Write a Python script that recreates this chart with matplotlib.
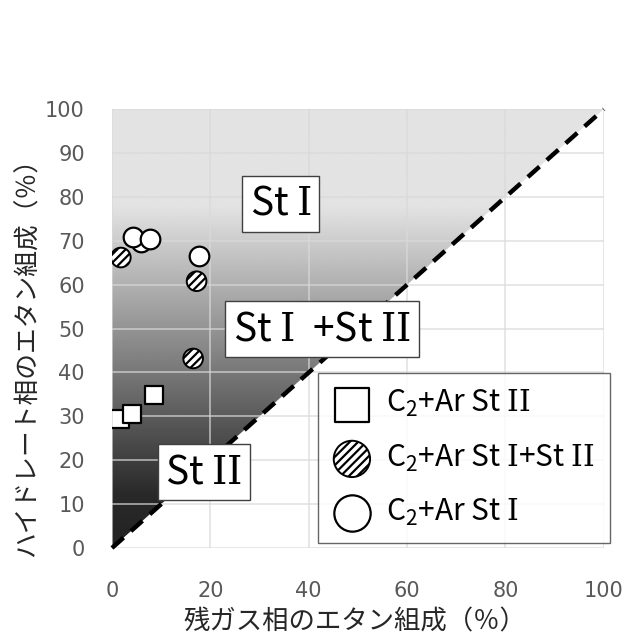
import numpy as np
import matplotlib
matplotlib.use("Agg")
import matplotlib.pyplot as plt
from matplotlib.patches import Polygon

plt.rcParams['font.family'] = ['Noto Sans CJK JP', 'DejaVu Sans']
plt.rcParams['mathtext.fontset'] = 'custom'
plt.rcParams['mathtext.rm'] = 'DejaVu Serif'
plt.rcParams['hatch.linewidth'] = 1.6

# Ethane composition: residual gas phase (x) vs hydrate phase (y), %
st2_x = [1.6, 4.1, 8.5]
st2_y = [29.5, 30.5, 34.8]
mix_x = [1.8, 16.5, 17.2]
mix_y = [66.2, 43.2, 60.8]
st1_x = [6.0, 4.2, 7.7, 17.7]
st1_y = [69.8, 70.8, 70.4, 66.6]

ONE = r'$\mathrm{I}$'
TWO = r'$\mathrm{II}$'
SUB2 = r'$_\mathregular{2}$'
labels = [f'C{SUB2}+Ar St {TWO}', f'C{SUB2}+Ar St {ONE}+St {TWO}', f'C{SUB2}+Ar St {ONE}']
region_labels = [f'St {ONE}', f'St {ONE}  +St {TWO}', f'St {TWO}']
region_pos = [(34.3, 78.4), (42.7, 49.9), (18.7, 17.3)]

xticks = [0, 20, 40, 60, 80, 100]
yticks = list(range(0, 101, 10))

fig = plt.figure(figsize=(6.38, 6.35), dpi=100)
ax = fig.add_axes([0.1755, 0.137, 0.771, 0.691])
ax.set_xlim(0, 100)
ax.set_ylim(0, 100)

# Shaded region above the 1:1 line, dark at the bottom and light at the top
yy = np.linspace(0, 100, 400)
shade = np.interp(yy, [0, 12, 78, 100], [0.14, 0.16, 0.89, 0.89])
img = np.repeat(shade[:, None], 2, axis=1)
im = ax.imshow(img, extent=[0, 100, 0, 100], origin='lower', cmap='gray',
               vmin=0, vmax=1, aspect='auto', zorder=0, interpolation='bilinear')
tri = Polygon([[0, 0], [0, 100], [100, 100]], closed=True, transform=ax.transData,
              facecolor='none', edgecolor='none')
ax.add_patch(tri)
im.set_clip_path(tri)

for v in yticks:
    ax.axhline(v, color='#d9d9d9', lw=1.2, alpha=0.75, zorder=1)
for v in xticks:
    ax.axvline(v, color='#d9d9d9', lw=1.2, alpha=0.75, zorder=1)

ax.plot([0, 100], [0, 100], color='black', lw=3.2, dashes=(3.5, 2.2), zorder=2,
        clip_on=False, solid_capstyle='butt', dash_capstyle='butt')

h2 = ax.scatter(st2_x, st2_y, marker='s', s=175, facecolor='white',
                edgecolor='black', linewidths=1.6, zorder=5)
hm = ax.scatter(mix_x, mix_y, marker='o', s=200, facecolor='white',
                edgecolor='black', linewidths=1.4, hatch='////', zorder=5)
h1 = ax.scatter(st1_x, st1_y, marker='o', s=200, facecolor='white',
                edgecolor='black', linewidths=1.6, zorder=5)

for (tx, ty), t in zip(region_pos, region_labels):
    ax.text(tx, ty, t, fontsize=28, ha='center', va='center', zorder=6,
            bbox=dict(boxstyle='square,pad=0.2', facecolor='white',
                      edgecolor='#404040', linewidth=1.0))

leg = ax.legend([h2, hm, h1], labels, loc='lower right',
                bbox_to_anchor=(1.012, 0.011), frameon=True, fancybox=False,
                fontsize=21.5, markerscale=1.85, scatterpoints=1,
                labelspacing=0.78, borderpad=0.5, handlelength=1.3,
                handletextpad=0.5, borderaxespad=0)
leg.get_frame().set_edgecolor('#404040')
leg.get_frame().set_linewidth(1.0)
leg.set_zorder(7)

for s in ax.spines.values():
    s.set_visible(False)
ax.set_xticks(xticks)
ax.set_yticks(yticks)
ax.tick_params(length=0, labelsize=15, labelcolor='#595959')
for lab in ax.get_xticklabels() + ax.get_yticklabels():
    lab.set_family('DejaVu Sans')
ax.tick_params(axis='y', pad=19.5)
ax.tick_params(axis='x', pad=24)

fig.text(0.5565, 1 - 622 / 635, '残ガス相のエタン組成（％）', fontsize=19,
         ha='center', va='center', color='#262626')
fig.text(28 / 638, 1 - 351 / 635, 'ハイドレート相のエタン組成（％）', fontsize=18.5,
         ha='center', va='center', rotation=90, color='#262626')

fig.savefig('out.png', dpi=100)
